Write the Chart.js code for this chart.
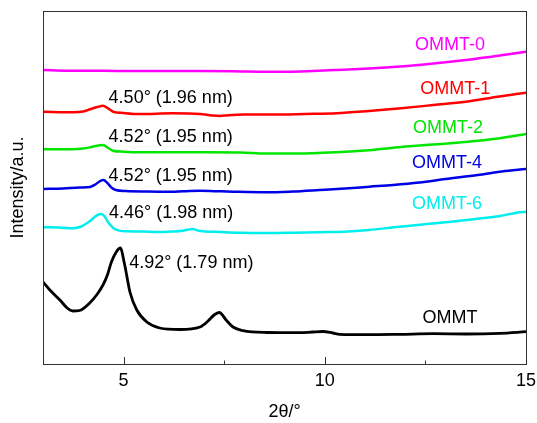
<!DOCTYPE html>
<html>
<head>
<meta charset="utf-8">
<script src="https://cdn.jsdelivr.net/npm/chart.js@4/dist/chart.umd.min.js"></script>
<style>
  html, body { margin: 0; padding: 0; background: #fff; }
  #wrap { width: 537px; height: 423px; position: relative; }
</style>
</head>
<body>
<div id="wrap"><canvas id="xrd"></canvas></div>
<script>
// XRD patterns, 2θ in degrees, intensity in arbitrary units (stacked offsets)
const xTicks = [5, 10, 15];
const xMinorTicks = [7.5, 12.5];

const ommtX = [3.0, 3.17, 3.42, 3.6, 3.74, 3.91, 4.16, 4.35, 4.49, 4.6, 4.7, 4.82, 4.92, 5.03, 5.16, 5.33, 5.58, 5.9, 6.4, 6.9, 7.1, 7.25, 7.38, 7.55, 7.72, 7.97, 8.56, 9.38, 9.7, 9.95, 10.2, 10.37, 11.04, 11.87, 12.69, 13.53, 14.35, 15.0];
const ommtY = [82, 74, 64, 56, 53, 53.5, 61, 70, 79, 89, 102, 112, 116, 99, 72, 54, 42, 36, 34.5, 37, 43, 49, 51.5, 44, 37, 33.3, 31.5, 31.3, 32, 32.5, 31, 29.7, 29.3, 29.7, 30.3, 30, 30.7, 32.3];

const ommt6X = [3.0, 3.4, 3.74, 3.95, 4.09, 4.2, 4.29, 4.38, 4.46, 4.54, 4.61, 4.7, 4.78, 5.08, 5.5, 5.83, 6.2, 6.47, 6.62, 6.72, 6.85, 6.97, 7.4, 7.89, 8.56, 9.23, 9.9, 10.47, 11.1, 11.72, 12.54, 13.53, 14.35, 14.77, 15.0];
const ommt6Y = [136.7, 136.5, 135.7, 137.5, 140.7, 144, 147.3, 149.5, 150, 147, 142.3, 138, 135, 132.7, 132.5, 132, 132.5, 133.3, 134.5, 135, 133.5, 132.7, 132, 131.3, 131, 131.3, 131.8, 132.3, 134, 136.7, 140, 144, 148, 151.3, 152.3];

const ommt4X = [3.0, 3.5, 3.92, 4.17, 4.3, 4.42, 4.5, 4.6, 4.7, 4.81, 5.06, 5.6, 6.08, 6.5, 6.9, 7.3, 7.72, 8.56, 9.2, 9.87, 10.5, 11.11, 11.7, 12.35, 13.0, 13.8, 14.4, 15.0];
const ommt4Y = [175, 175.5, 176.5, 177, 179.5, 183, 184, 181, 176.5, 174, 173, 172.5, 172.3, 172.8, 173.3, 172.8, 172.3, 171.7, 172.5, 174, 175.5, 177.3, 179, 181.5, 185, 189, 192.5, 195];

const ommt2X = [3.0, 3.74, 4.0, 4.17, 4.35, 4.49, 4.62, 4.74, 5.0, 5.41, 6.2, 7.07, 7.9, 8.56, 9.3, 10.3, 11.1, 11.9, 12.7, 13.5, 14.3, 15.0];
const ommt2Y = [214.7, 214.7, 215.5, 216.7, 218.3, 219, 216, 213.3, 212.3, 211.7, 211.7, 211.7, 211.5, 210.5, 210.5, 211.8, 213.8, 217, 219.5, 222, 225.5, 230];

const ommt1X = [3.0, 3.74, 4.0, 4.17, 4.35, 4.49, 4.62, 4.74, 5.0, 5.41, 6.22, 6.9, 7.2, 7.39, 7.6, 8.0, 8.7, 9.5, 10.3, 11.1, 11.9, 12.7, 13.5, 14.3, 15.0];
const ommt1Y = [252.3, 251.7, 252.5, 254.7, 257, 258.3, 255.5, 252.3, 251, 250, 250.7, 250, 248.5, 248, 248.8, 249.5, 249.5, 250, 250.7, 253, 255.7, 259, 262.3, 267.3, 271.3];

const ommt0X = [3.0, 3.6, 4.5, 5.24, 6.1, 6.9, 7.7, 8.56, 9.1, 9.7, 10.3, 11.1, 11.87, 12.7, 13.5, 14.35, 15.0];
const ommt0Y = [294, 293.3, 293.2, 293, 293, 293, 292.8, 292.3, 292.3, 293, 294, 295.5, 297.5, 300.5, 304, 308.5, 312.3];

const seriesNames = ['OMMT-0', 'OMMT-1', 'OMMT-2', 'OMMT-4', 'OMMT-6', 'OMMT'];
const seriesColors = ['#ff00ff', '#ff0000', '#00e600', '#0000e6', '#00eeee', '#000000'];
const seriesX = [ommt0X, ommt1X, ommt2X, ommt4X, ommt6X, ommtX];
const seriesY = [ommt0Y, ommt1Y, ommt2Y, ommt4Y, ommt6Y, ommtY];

// text labels placed in data coordinates
const notes = [
    { text: 'OMMT-0', x: 13.11, y: 319, color: '#ff00ff', align: 'center' },
    { text: 'OMMT-1', x: 13.24, y: 274.7, color: '#ff0000', align: 'center' },
    { text: 'OMMT-2', x: 13.06, y: 236.3, color: '#00e600', align: 'center' },
    { text: 'OMMT-4', x: 13.04, y: 200.7, color: '#0000e6', align: 'center' },
    { text: 'OMMT-6', x: 13.04, y: 159.7, color: '#00eeee', align: 'center' },
    { text: 'OMMT', x: 13.11, y: 46.3, color: '#000000', align: 'center' },
    { text: '4.50° (1.96 nm)', x: 4.63, y: 265.7, color: '#000000', align: 'left' },
    { text: '4.52° (1.95 nm)', x: 4.63, y: 226.7, color: '#000000', align: 'left' },
    { text: '4.52° (1.95 nm)', x: 4.63, y: 188.3, color: '#000000', align: 'left' },
    { text: '4.46° (1.98 nm)', x: 4.64, y: 150.7, color: '#000000', align: 'left' },
    { text: '4.92° (1.79 nm)', x: 5.14, y: 100.7, color: '#000000', align: 'left' }
];

const FONT = '"Liberation Sans", Arial, Helvetica, sans-serif';

// frame round the plot and inward tick marks
const framePlugin = {
    id: 'frame',
    afterDraw(chart) {
        const { ctx, chartArea: a, scales } = chart;
        ctx.save();
        ctx.strokeStyle = '#333';
        ctx.lineWidth = 1;
        ctx.strokeRect(a.left + 0.5, a.top + 0.5, a.right - a.left, a.bottom - a.top);
        ctx.beginPath();
        xTicks.forEach(v => {
            const px = Math.round(scales.x.getPixelForValue(v)) + 0.5;
            ctx.moveTo(px, a.bottom);
            ctx.lineTo(px, a.bottom - 7);
        });
        xMinorTicks.forEach(v => {
            const px = Math.round(scales.x.getPixelForValue(v)) + 0.5;
            ctx.moveTo(px, a.bottom);
            ctx.lineTo(px, a.bottom - 3.5);
        });
        ctx.stroke();
        ctx.restore();
    }
};

const notesPlugin = {
    id: 'notes',
    afterDatasetsDraw(chart) {
        const { ctx, scales } = chart;
        ctx.save();
        ctx.font = '18px ' + FONT;
        ctx.textBaseline = 'middle';
        notes.forEach(n => {
            ctx.fillStyle = n.color;
            ctx.textAlign = n.align;
            ctx.fillText(n.text, scales.x.getPixelForValue(n.x), scales.y.getPixelForValue(n.y));
        });
        ctx.restore();
    }
};

const datasets = seriesNames.map((name, i) => ({
    label: name,
    data: seriesX[i].map((x, j) => ({ x: x, y: seriesY[i][j] })),
    borderColor: seriesColors[i],
    borderWidth: i === 5 ? 2.8 : 2.5,
    pointRadius: 0,
    fill: false,
    cubicInterpolationMode: 'monotone'
}));

new Chart(document.getElementById('xrd'), {
    type: 'line',
    data: { datasets: datasets },
    options: {
        responsive: true,
        maintainAspectRatio: false,
        animation: false,
        layout: { padding: { top: 11, right: 0, left: 0, bottom: 0 } },
        plugins: {
            legend: { display: false },
            tooltip: { enabled: false }
        },
        scales: {
            x: {
                type: 'linear',
                min: 3,
                max: 15,
                afterBuildTicks: scale => { scale.ticks = xTicks.map(v => ({ value: v })); },
                afterFit: scale => { scale.height = 59; scale.paddingRight = 11; },
                grid: { display: false, drawTicks: false },
                border: { display: false },
                ticks: { color: '#000', padding: 6, maxRotation: 0, font: { family: FONT, size: 18 } },
                title: {
                    display: true,
                    text: '2θ/°',
                    color: '#000',
                    padding: { top: 0, bottom: 0 },
                    font: { family: FONT, size: 18 }
                }
            },
            y: {
                min: 0,
                max: 353,
                afterFit: scale => { scale.width = 43; },
                grid: { display: false, drawTicks: false },
                border: { display: false },
                ticks: { display: false },
                title: {
                    display: true,
                    text: 'Intensity/a.u.',
                    color: '#000',
                    padding: { top: 7, bottom: 0 },
                    font: { family: FONT, size: 18 }
                }
            }
        }
    },
    plugins: [framePlugin, notesPlugin]
});
</script>
</body>
</html>
